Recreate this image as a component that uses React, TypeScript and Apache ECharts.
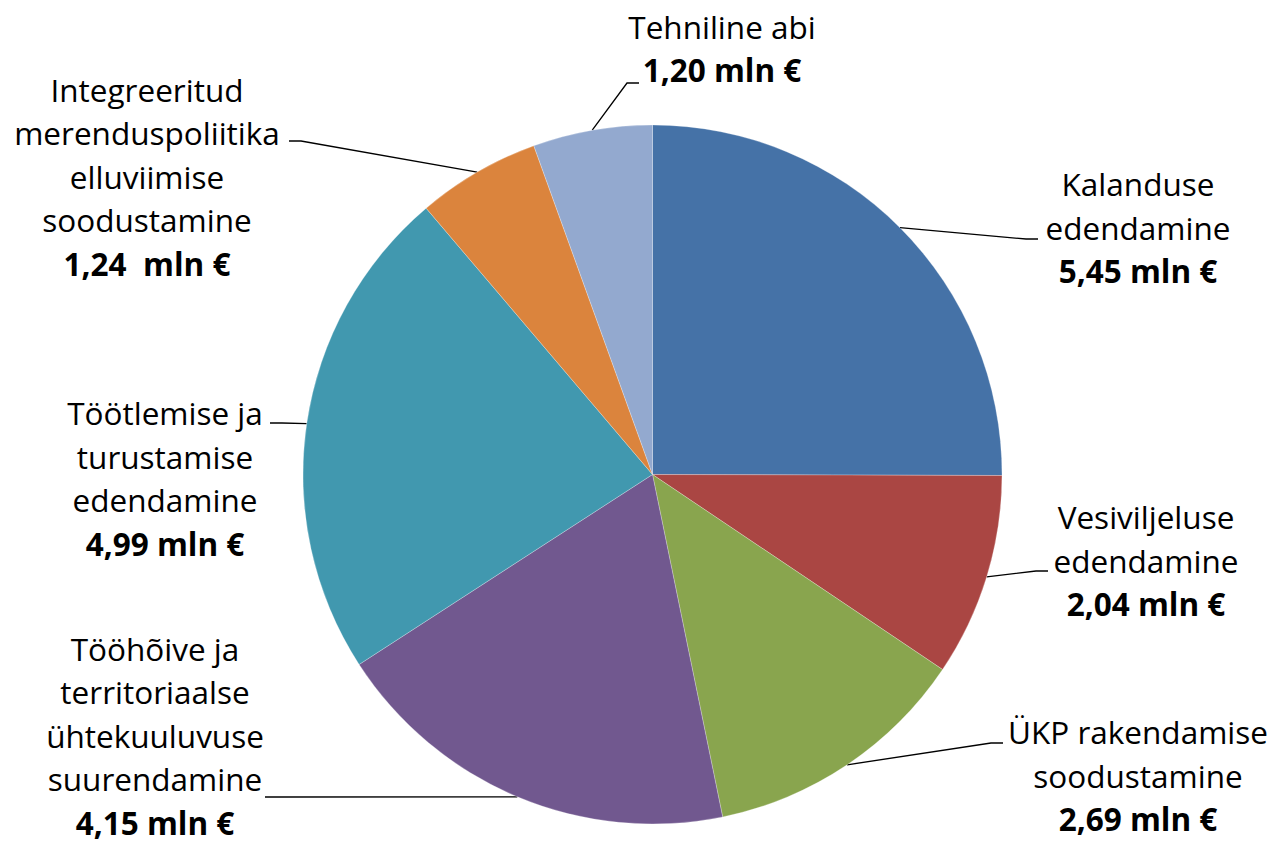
import React, { useEffect, useRef } from "react";
import * as echarts from "echarts";

const categoryLines: string[][] = [
  ["Kalanduse", "edendamine"],
  ["Vesiviljeluse", "edendamine"],
  ["ÜKP rakendamise", "soodustamine"],
  ["Tööhõive ja", "territoriaalse", "ühtekuuluvuse", "suurendamine"],
  ["Töötlemise ja", "turustamise", "edendamine"],
  ["Integreeritud", "merenduspoliitika", "elluviimise", "soodustamine"],
  ["Tehniline abi"],
];
const values = [5.45, 2.04, 2.69, 4.15, 4.99, 1.24, 1.2];
const valueLabels = [
  "5,45 mln €",
  "2,04 mln €",
  "2,69 mln €",
  "4,15 mln €",
  "4,99 mln €",
  "1,24  mln €",
  "1,20 mln €",
];
const colors = ["#4572A7", "#AA4643", "#89A54E", "#71588F", "#4198AF", "#DB843D", "#93A9CF"];

// label block centres and label-line attachment points (layout only)
const labelCenters = [
  [1138, 227],
  [1146, 560],
  [1138, 775],
  [155, 735],
  [165, 478],
  [147, 176],
  [722, 48],
];
const lineEnds = [
  [1038, 239],
  [1048, 571],
  [1003, 743],
  [265, 797],
  [270, 423],
  [289, 141],
  [639, 83],
];

const CX = 652.5;
const CY = 474.5;
const R = 349.5;

export default function App() {
  const ref = useRef<HTMLDivElement>(null);
  useEffect(() => {
    if (!ref.current) return;
    const chart = echarts.init(ref.current, undefined, { renderer: "svg" });
    const textBase = {
      fontFamily: "'Open Sans', sans-serif",
      fontSize: 31.5,
      lineHeight: 43.5,
      color: "#000",
      align: "center" as const,
    };
    chart.setOption({
      animation: false,
      backgroundColor: "#fff",
      series: [
        {
          type: "pie",
          center: [CX, CY],
          radius: R,
          startAngle: 90,
          clockwise: true,
          avoidLabelOverlap: false,
          silent: true,
          emphasis: { disabled: true },
          itemStyle: { borderColor: "rgba(255,255,255,0.5)", borderWidth: 0.5 },
          data: values.map((v, i) => ({
            value: v,
            name: categoryLines[i].join(" "),
            itemStyle: { color: colors[i] },
          })),
          label: {
            show: true,
            position: "outside",
            formatter: (p: any) => {
              const i = p.dataIndex;
              return (
                categoryLines[i].map((l) => `{n|${l}}`).join("\n") +
                `\n{b|${valueLabels[i]}}`
              );
            },
            ...textBase,
            rich: {
              n: { ...textBase },
              b: { ...textBase, fontWeight: "bold" },
            },
          },
          labelLine: {
            show: true,
            length: 10,
            length2: 10,
            lineStyle: { color: "#000", width: 1.3 },
          },
          labelLayout: (params: any) => {
            const i = params.dataIndex;
            let start = params.labelLinePoints && params.labelLinePoints[0];
            if (!start) {
              let acc = 0;
              const total = values.reduce((a, b) => a + b, 0);
              for (let k = 0; k < i; k++) acc += values[k];
              const mid = Math.PI / 2 - ((acc + values[i] / 2) / total) * Math.PI * 2;
              start = [CX + R * Math.cos(mid), CY - R * Math.sin(mid)];
            }
            const end = lineEnds[i];
            const dir = end[0] > start[0] ? 1 : -1;
            const bend = [end[0] - dir * 12, end[1]];
            return {
              x: labelCenters[i][0],
              y: labelCenters[i][1],
              align: "center",
              verticalAlign: "middle",
              labelLinePoints: [start, bend, end],
            };
          },
        },
      ],
    });
    return () => chart.dispose();
  }, []);
  return (
    <div
      ref={ref}
      style={{ position: "fixed", left: 0, top: 0, width: 1276, height: 845 }}
    />
  );
}
